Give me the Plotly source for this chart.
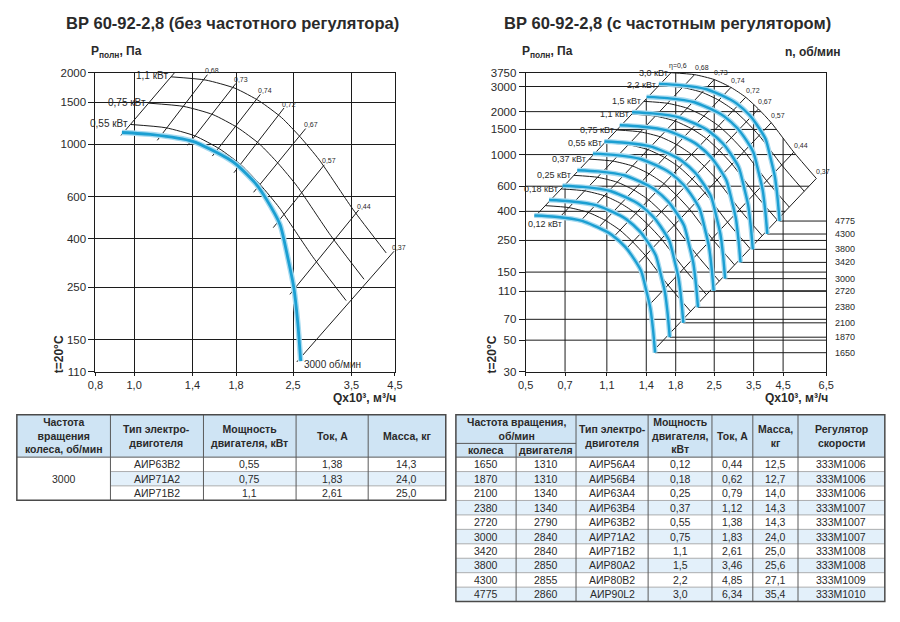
import numpy as np
import plotly.graph_objects as go

W, H = 900, 622
FONT = "Liberation Sans, Arial, sans-serif"
INK = "#1c1c1c"
TXT = "#2a2a2a"
BLUE = "#1b9fd2"
HALO = "#a6daf0"
HDR = "#cfe4f4"
ALT = "#e3f0fa"

# ------------------------------------------------------------------ data
L_XTICKS = [0.8, 1.0, 1.4, 1.8, 2.5, 3.5, 4.5]
L_XTEXT = ["0,8", "1,0", "1,4", "1,8", "2,5", "3,5", "4,5"]
L_YTICKS = [110, 150, 250, 400, 600, 1000, 1500, 2000]

R_XTICKS = [0.5, 0.7, 1.0, 1.4, 1.8, 2.5, 3.5, 4.5, 6.5]
R_XTEXT = ["0,5", "0,7", "1,1", "1,4", "1,8", "2,5", "3,5", "4,5", "6,5"]
R_YTICKS = [30, 50, 70, 110, 150, 250, 400, 600, 1000, 1500, 2000, 3000, 3750]

# fan curve, 3000 rpm (left chart), Q x10^3 m3/h, P Pa
FAN_L_Q = [0.932, 1.111, 1.402, 1.709, 1.809, 2.025, 2.143, 2.320, 2.427, 2.511, 2.569, 2.613]
FAN_L_P = [1120, 1098, 1028, 874, 818, 676, 587, 458, 331, 249, 177, 122]
L_RPM = 3000

# fan curve, 3000 rpm, as drawn on the right chart
FAN_R_Q = [0.979, 1.167, 1.472, 1.794, 1.899, 2.126, 2.250, 2.436, 2.548, 2.637, 2.697, 2.744]
FAN_R_P = [1235, 1211, 1133, 964, 902, 745, 647, 505, 365, 275, 195, 135]
FAN_RPM_BASE = 3000

# 3,0 kW power line (right chart), read at the efficiency rays
ETA = ["η=0,6", "0,68", "0,73", "0,74", "0,72", "0,67", "0,57", "0,44", "0,37"]
ARC3_Q = [1.729, 2.114, 2.5, 2.883, 3.27, 3.646, 4.066, 4.929, 5.976]
ARC3_P = [3750, 3633, 3357, 2957, 2524, 2087, 1673, 1040, 680]
ARC_KW_BASE = 3.0

# efficiency rays on the left chart (lower / upper ends)
L_RAY_Q_LO = [0.927, 1.143, 1.362, 1.570, 1.778, 1.991, 2.23, 2.455, 2.554]
L_RAY_P_LO = [1088, 1038, 989, 891, 758, 627, 445, 233, 121]
L_RAY_Q_HI = [1.287, 1.526, 1.798, 2.071, 2.373, 2.688, 2.993, 3.649, 4.475]
L_RAY_P_HI = [2077, 1962, 1802, 1622, 1420, 1163, 818, 528, 354]

L_KW = [0.55, 0.75, 1.1]

# right chart / table
RPM = [1650, 1870, 2100, 2380, 2720, 3000, 3420, 3800, 4300, 4775]
RPM_MOTOR = [1310, 1310, 1340, 1340, 2790, 2840, 2840, 2850, 2855, 2860]
MOTOR = ["АИР56А4", "АИР56В4", "АИР63А4", "АИР63В4", "АИР63В2",
         "АИР71А2", "АИР71В2", "АИР80А2", "АИР80В2", "АИР90L2"]
KW = [0.12, 0.18, 0.25, 0.37, 0.55, 0.75, 1.1, 1.5, 2.2, 3.0]
AMP = [0.44, 0.62, 0.79, 1.12, 1.38, 1.83, 2.61, 3.46, 4.85, 6.34]
MASS = [12.5, 12.7, 14.0, 14.3, 14.3, 24.0, 25.0, 25.6, 27.1, 35.4]
REG = ["333М1006", "333М1006", "333М1006", "333М1007", "333М1007",
       "333М1007", "333М1008", "333М1008", "333М1009", "333М1010"]

# left table
LT_RPM = 3000
LT_MOTOR = ["АИР63В2", "АИР71А2", "АИР71В2"]
LT_KW = [0.55, 0.75, 1.1]
LT_AMP = [1.38, 1.83, 2.61]
LT_MASS = [14.3, 24.0, 25.0]


# ------------------------------------------------------------------ helpers
def lg(v):
    return float(np.log10(v))


def fnum(v, d=None):
    if d is None:
        s = f"{v:.1f}" if float(v).is_integer() else f"{v:g}"
    else:
        s = f"{v:.{d}f}"
    return s.replace(".", ",")


fig = go.Figure()


def add_line(q, p, xa, ya, color=INK, width=1.0, spline=False):
    fig.add_trace(go.Scatter(
        x=list(q), y=list(p), xaxis=xa, yaxis=ya, mode="lines",
        line=dict(color=color, width=width,
                  shape="spline" if spline else "linear", smoothing=0.6),
        hoverinfo="skip", showlegend=False))


def add_blue(q, p, xa, ya, w_core, w_halo):
    add_line(q, p, xa, ya, HALO, w_halo, True)
    add_line(q, p, xa, ya, BLUE, w_core, True)


annotations = []


def ann(text, x, y, xref="paper", yref="paper", size=10, bold=False, color=TXT,
        xanchor="center", yanchor="middle", xshift=0, yshift=0, angle=0):
    if bold:
        text = f"<b>{text}</b>"
    annotations.append(dict(text=text, x=x, y=y, xref=xref, yref=yref, showarrow=False,
                            font=dict(size=size, color=color, family=FONT),
                            xanchor=xanchor, yanchor=yanchor, xshift=xshift,
                            yshift=yshift, textangle=angle))


def px_ann(text, px, py, **kw):
    ann(text, px / W, 1 - py / H, **kw)


shapes = []


def px_rect(x0, y0, x1, y1, fill):
    shapes.append(dict(type="rect", xref="paper", yref="paper", x0=x0 / W, x1=x1 / W,
                       y0=1 - y1 / H, y1=1 - y0 / H, fillcolor=fill, line=dict(width=0)))


def px_line(x0, y0, x1, y1, color="#5a5a5a", width=1):
    shapes.append(dict(type="line", xref="paper", yref="paper", x0=x0 / W, x1=x1 / W,
                       y0=1 - y0 / H, y1=1 - y1 / H, line=dict(color=color, width=width)))


# ------------------------------------------------------------------ left chart
for kw in L_KW:
    k = (kw / ARC_KW_BASE) ** (1 / 3)
    add_line(np.array(ARC3_Q) * k, np.array(ARC3_P) * k * k, "x", "y", INK, 1.0, True)
    ann(fnum(kw) + " кВт", lg(ARC3_Q[0] * k), lg(ARC3_P[0] * k * k), "x", "y",
        size=10, xanchor="right", xshift=-1, yshift=1)

for i in range(len(ETA)):
    add_line([L_RAY_Q_LO[i], L_RAY_Q_HI[i]], [L_RAY_P_LO[i], L_RAY_P_HI[i]], "x", "y")
    ann(ETA[i], lg(L_RAY_Q_HI[i]), lg(L_RAY_P_HI[i]), "x", "y", size=7,
        xshift=5, yshift=4)

add_blue(FAN_L_Q, FAN_L_P, "x", "y", 2.8, 5.5)
ann(f"{L_RPM} об/мин", lg(FAN_L_Q[-1]), lg(FAN_L_P[-1]), "x", "y", size=10,
    xanchor="left", xshift=1, yshift=-3)

# ------------------------------------------------------------------ right chart
arcq = np.array(ARC3_Q, dtype=float)
arcp = np.array(ARC3_P, dtype=float)
c06 = arcp[0] / arcq[0] ** 2
c37 = arcp[-1] / arcq[-1] ** 2
fq = np.array(FAN_R_Q, dtype=float)
fp = np.array(FAN_R_P, dtype=float)
ends_q = [fq[-1] * n / FAN_RPM_BASE for n in RPM]
ends_p = [fp[-1] * (n / FAN_RPM_BASE) ** 2 for n in RPM]
p_leader_top = max(ends_p)


def boundary_q(p):
    if p >= arcp[-1]:
        return 10 ** np.interp(np.log10(p), np.log10(arcp[::-1]), np.log10(arcq[::-1]))
    return (p / c37) ** 0.5


def boundary_p(q):
    if q <= arcq[0]:
        return min(c06 * q * q, R_YTICKS[-1])
    if q <= arcq[-1]:
        return 10 ** np.interp(np.log10(q), np.log10(arcq), np.log10(arcp))
    return c37 * q * q


# grid
for p in R_YTICKS[1:-1]:
    xe = R_XTICKS[-1] if p < p_leader_top else boundary_q(p)
    add_line([R_XTICKS[0], xe], [p, p], "x2", "y2")
for q in R_XTICKS[1:-1]:
    add_line([q, q], [R_YTICKS[0], boundary_p(q)], "x2", "y2")

# rpm leaders
for n, qe, pe in zip(RPM, ends_q, ends_p):
    add_line([qe, R_XTICKS[-1]], [pe, pe], "x2", "y2")
    ann(str(n), 840 / W, lg(pe), "paper", "y2", size=9, xanchor="left")

# power lines
for kw in KW:
    k = (kw / ARC_KW_BASE) ** (1 / 3)
    add_line(arcq * k, arcp * k * k, "x2", "y2", INK, 1.0, True)
    if kw == KW[0]:
        ann(fnum(kw) + " кВт", lg(arcq[0] * k), lg(arcp[0] * k * k), "x2", "y2",
            size=9, xanchor="center", yshift=-18)
    else:
        ann(fnum(kw) + " кВт", lg(arcq[0] * k), lg(arcp[0] * k * k), "x2", "y2",
            size=9, xanchor="right", xshift=-1)

# efficiency rays
cb = fp / fq ** 2
rmin = min(RPM) / FAN_RPM_BASE
for i in range(len(ETA)):
    c = arcp[i] / arcq[i] ** 2
    qb = 10 ** np.interp(np.log10(c), np.log10(cb[::-1]), np.log10(fq[::-1]))
    qlo = qb * rmin
    add_line([qlo, arcq[i]], [c * qlo * qlo, arcp[i]], "x2", "y2")
    ann(ETA[i], lg(arcq[i]), lg(arcp[i]), "x2", "y2", size=7, xshift=7, yshift=7)

# fan curves
for n in RPM:
    r = n / FAN_RPM_BASE
    add_blue(fq * r, fp * r * r, "x2", "y2", 2.4, 5.0)

# ------------------------------------------------------------------ chart texts
px_ann("ВР 60-92-2,8 (без частотного регулятора)", 229, 17, size=16.5, bold=True)
px_ann("ВР 60-92-2,8 (с частотным регулятором)", 671, 17, size=16.5, bold=True)
px_ann("P<sub>полн</sub>, Па", 82, 47, size=12, bold=True, xanchor="left")
px_ann("P<sub>полн</sub>, Па", 521, 47, size=12, bold=True, xanchor="left")
px_ann("n, об/мин", 850, 47, size=12, bold=True, xanchor="right")
px_ann("t=20°C", 52, 355, size=12, bold=True, angle=-90)
px_ann("t=20°C", 493, 355, size=12, bold=True, angle=-90)
px_ann("Qx10³, м³/ч", 397, 400, size=12, bold=True, xanchor="right")
px_ann("Qx10³, м³/ч", 837, 400, size=12, bold=True, xanchor="right")

# ------------------------------------------------------------------ left table
LX = [9, 104.3, 199, 293.3, 366.7, 445.7]
LY = [416.7, 460, 474.7, 489.3, 504]
px_rect(LX[0], LY[0], LX[-1], LY[1], HDR)
px_rect(LX[1], LY[2], LX[-1], LY[3], ALT)
for y in LY[2:4]:
    px_line(LX[1], y, LX[-1], y, "#9a9a9a", 0.8)
for x in LX[1:-1]:
    px_line(x, LY[0], x, LY[-1], "#5a5a5a", 1)
px_line(LX[0], LY[1], LX[-1], LY[1], "#5a5a5a", 1)
shapes.append(dict(type="rect", xref="paper", yref="paper", x0=LX[0] / W, x1=LX[-1] / W,
                   y0=1 - LY[-1] / H, y1=1 - LY[0] / H, line=dict(color="#4a4a4a", width=1.5)))
l_heads = ["Частота<br>вращения<br>колеса, об/мин", "Тип электро-<br>двиготеля",
           "Мощность<br>двигателя, кВт", "Ток, А", "Масса, кг"]
for j, t in enumerate(l_heads):
    px_ann(t, (LX[j] + LX[j + 1]) / 2, (LY[0] + LY[1]) / 2, size=10.5, bold=True)
px_ann(str(LT_RPM), (LX[0] + LX[1]) / 2, (LY[1] + LY[-1]) / 2, size=10.5)
for i in range(3):
    yc = (LY[i + 1] + LY[i + 2]) / 2
    vals = [LT_MOTOR[i], fnum(LT_KW[i]), fnum(LT_AMP[i], 2), fnum(LT_MASS[i], 1)]
    for j, v in enumerate(vals):
        px_ann(v, (LX[j + 1] + LX[j + 2]) / 2, yc, size=10.5)

# ------------------------------------------------------------------ right table
RX = [456, 517.3, 578.3, 651.7, 716.7, 758.3, 804.3, 892.7]
RY0, RYS, RYH = 416.7, 446, 460
RH = (607.3 - RYH) / len(RPM)
RY = [RYH + RH * i for i in range(len(RPM) + 1)]
px_rect(RX[0], RY0, RX[-1], RYH, HDR)
for i in range(len(RPM)):
    if i % 2 == 1:
        px_rect(RX[0], RY[i], RX[-1], RY[i + 1], ALT)
for y in RY[1:-1]:
    px_line(RX[0], y, RX[-1], y, "#9a9a9a", 0.8)
px_line(RX[0], RYS, RX[2], RYS, "#5a5a5a", 1)
px_line(RX[1], RYS, RX[1], RY[-1], "#5a5a5a", 1)
for x in RX[2:-1]:
    px_line(x, RY0, x, RY[-1], "#5a5a5a", 1)
px_line(RX[0], RYH, RX[-1], RYH, "#5a5a5a", 1)
shapes.append(dict(type="rect", xref="paper", yref="paper", x0=RX[0] / W, x1=RX[-1] / W,
                   y0=1 - RY[-1] / H, y1=1 - RY0 / H, line=dict(color="#4a4a4a", width=1.5)))
px_ann("Частота вращения,<br>об/мин", RX[1], (RY0 + RYS) / 2, size=10.5, bold=True)
px_ann("колеса", (RX[0] + RX[1]) / 2, (RYS + RYH) / 2, size=10.5, bold=True)
px_ann("двигателя", (RX[1] + RX[2]) / 2, (RYS + RYH) / 2, size=10.5, bold=True)
r_heads = ["Тип электро-<br>двиготеля", "Мощность<br>двигателя,<br>кВт", "Ток, А",
           "Масса,<br>кг", "Регулятор<br>скорости"]
for j, t in enumerate(r_heads):
    px_ann(t, (RX[j + 2] + RX[j + 3]) / 2, (RY0 + RYH) / 2, size=10.5, bold=True)
for i in range(len(RPM)):
    yc = (RY[i] + RY[i + 1]) / 2
    vals = [str(RPM[i]), str(RPM_MOTOR[i]), MOTOR[i], fnum(KW[i]), fnum(AMP[i], 2),
            fnum(MASS[i], 1), REG[i]]
    for j, v in enumerate(vals):
        px_ann(v, (RX[j] + RX[j + 1]) / 2, yc, size=10.5)

# ------------------------------------------------------------------ layout
ydom = [(H - 373) / H, (H - 68) / H]
axis_common = dict(type="log", showline=True, linecolor=INK, linewidth=1, mirror=True,
                   ticks="outside", ticklen=3, tickcolor=INK, tickwidth=1, zeroline=False,
                   tickfont=dict(size=11, color=TXT, family=FONT), fixedrange=True)

fig.update_layout(
    width=W, height=H, margin=dict(l=0, r=0, t=0, b=0),
    paper_bgcolor="white", plot_bgcolor="white",
    font=dict(family=FONT, color=TXT),
    xaxis=dict(axis_common, domain=[89 / W, 394 / W], range=[lg(0.8), lg(4.5)],
               tickvals=L_XTICKS, ticktext=L_XTEXT, anchor="y",
               showgrid=True, gridcolor=INK, gridwidth=1),
    yaxis=dict(axis_common, domain=ydom, range=[lg(110), lg(2000)],
               tickvals=L_YTICKS, ticktext=[str(v) for v in L_YTICKS], anchor="x",
               showgrid=True, gridcolor=INK, gridwidth=1, ticklen=6,
               tickfont=dict(size=11.5, color=TXT, family=FONT)),
    xaxis2=dict(axis_common, domain=[527 / W, 833 / W], range=[lg(0.5), lg(6.5)],
                tickvals=R_XTICKS, ticktext=R_XTEXT, anchor="y2", showgrid=False),
    yaxis2=dict(axis_common, domain=ydom, range=[lg(30), lg(3750)],
                tickvals=R_YTICKS, ticktext=[str(v) for v in R_YTICKS], anchor="x2",
                showgrid=False, ticklen=6,
                tickfont=dict(size=11.5, color=TXT, family=FONT)),
    annotations=annotations,
    shapes=shapes,
)

fig.write_html("out.html")
